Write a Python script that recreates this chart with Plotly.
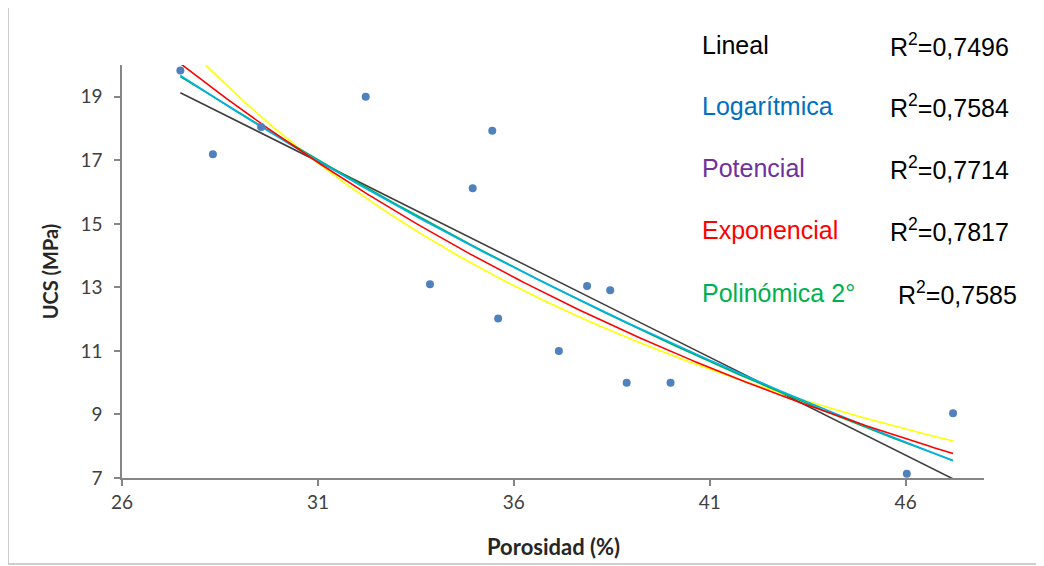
import numpy as np
import plotly.graph_objects as go

# Data
porosidad = [27.49, 28.32, 29.55, 32.22, 33.86, 34.95, 35.45, 35.60, 37.15, 37.87, 38.46, 38.88, 40.00, 46.03, 47.21]
ucs = [19.83, 17.19, 18.05, 19.00, 13.10, 16.12, 17.93, 12.02, 11.00, 13.04, 12.91, 10.00, 10.00, 7.13, 9.04]

x_ticks = [26, 31, 36, 41, 46]
y_ticks = [7, 9, 11, 13, 15, 17, 19]

fit_names = ["Lineal", "Logarítmica", "Potencial", "Exponencial", "Polinómica 2°"]
r2_labels = ["0,7496", "0,7584", "0,7714", "0,7817", "0,7585"]
label_colors = ["#000000", "#0070C0", "#7030A0", "#FF0000", "#00B050"]
line_colors = ["#404040", "#00B0F0", "#FFFF00", "#FF0000", "#00B050"]

x = np.array(porosidad)
y = np.array(ucs)
xs = np.linspace(x.min(), x.max(), 300)

# Excel-style trendlines fitted to the data
b1, a1 = np.polyfit(x, y, 1)
lin = a1 + b1 * xs
bl, al = np.polyfit(np.log(x), y, 1)
logf = al + bl * np.log(xs)
bp, ap = np.polyfit(np.log(x), np.log(y), 1)
powf = np.exp(ap) * xs ** bp
be, ae = np.polyfit(x, np.log(y), 1)
expf = np.exp(ae) * np.exp(be * xs)
c2 = np.polyfit(x, y, 2)
poly = np.polyval(c2, xs)

curves = [lin, logf, powf, expf, poly]

fig = go.Figure()
draw_order = [0, 2, 4, 1, 3]
for i in draw_order:
    fig.add_trace(go.Scatter(x=xs, y=curves[i], mode="lines",
                             line=dict(color=line_colors[i], width=1.6),
                             showlegend=False, hoverinfo="skip"))

fig.add_trace(go.Scatter(x=porosidad, y=ucs, mode="markers",
                         marker=dict(color="#4F81BD", size=8),
                         showlegend=False, cliponaxis=False))

OFF = 8  # page body margin offset
W, H = 1044, 566
L = 122 - OFF
T = 65 - OFF
R = W - (984 - OFF)
B = H - (478 - OFF)
pw, ph = W - L - R, H - T - B

def px(xp):
    return (xp - OFF - L) / pw

def py(yp):
    return (H - B - (yp - OFF)) / ph

axis_col = "#868686"
tick_font = dict(family="Lato, Carlito, sans-serif", size=19, color="#404040")
title_font_y = dict(family="Lato, Carlito, sans-serif", size=20, color="#262626", weight="bold")

fig.update_xaxes(range=[26, 48], tickvals=x_ticks, ticktext=[str(v) for v in x_ticks],
                 showgrid=False, zeroline=False, showline=True, linecolor=axis_col, linewidth=1.5,
                 ticks="outside", ticklen=6, tickcolor=axis_col, tickwidth=1.5,
                 tickfont=tick_font)
fig.update_yaxes(range=[7, 20], tickvals=y_ticks, ticktext=[str(v) for v in y_ticks],
                 showgrid=False, zeroline=False, showline=True, linecolor=axis_col, linewidth=1.5,
                 ticks="outside", ticklen=6, tickcolor=axis_col, tickwidth=1.5,
                 tickfont=tick_font, ticklabelstandoff=8,
                 title=dict(text="<b>UCS (MPa)</b>", font=title_font_y, standoff=16),
                 automargin=False)

annotations = []
rows_y = [45, 106, 168, 230, 293]
r2_x = [888, 888, 888, 888, 896]
for i, name in enumerate(fit_names):
    annotations.append(dict(x=px(700), y=py(rows_y[i]), xref="paper", yref="paper",
                            text=name, showarrow=False, xanchor="left", yanchor="middle",
                            font=dict(family="Liberation Sans, Arial, sans-serif", size=25,
                                      color=label_colors[i])))
    annotations.append(dict(x=px(r2_x[i]), y=py(rows_y[i]), xref="paper", yref="paper",
                            text="R<sup>2</sup>=" + r2_labels[i], showarrow=False,
                            xanchor="left", yanchor="middle",
                            font=dict(family="Liberation Sans, Arial, sans-serif", size=25,
                                      color="#000000")))

title_font_x = dict(family="Lato, Carlito, sans-serif", size=22, color="#262626", weight="bold")
annotations.append(dict(x=px(553), y=py(546), xref="paper", yref="paper",
                        text="<b>Porosidad (%)</b>", showarrow=False,
                        xanchor="center", yanchor="middle", font=title_font_x))

shapes = [dict(type="rect", xref="paper", yref="paper",
               x0=px(8), x1=px(1060), y0=py(564), y1=py(5),
               line=dict(color="#BFBFBF", width=1.5), fillcolor="rgba(0,0,0,0)", layer="below")]

fig.update_layout(width=W, height=H, margin=dict(l=L, r=R, t=T, b=B),
                  paper_bgcolor="white", plot_bgcolor="white",
                  annotations=annotations, shapes=shapes, showlegend=False)

fig.write_html("out.html")
